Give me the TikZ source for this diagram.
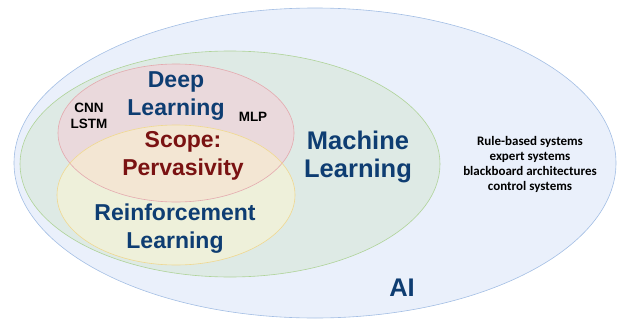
\documentclass[tikz,border=0pt]{standalone}
\usepackage{fontspec}
\setmainfont{Liberation Sans}
\newfontfamily\listfont{Carlito}

\definecolor{aifill}{HTML}{EAF0FB}
\definecolor{ailine}{HTML}{A3BEE4}
\definecolor{mlfill}{HTML}{DEEAE5}
\definecolor{mlline}{HTML}{AFD398}
\definecolor{dlfill}{HTML}{EAD9DC}
\definecolor{dlline}{HTML}{E4A9AE}
\definecolor{rlfill}{HTML}{EEF0DA}
\definecolor{rlline}{HTML}{F0D890}
\definecolor{bothfill}{HTML}{F3E6D3}
\definecolor{navy}{HTML}{0E3D72}
\definecolor{scopered}{HTML}{7A1212}

\begin{document}
\begin{tikzpicture}[x=1pt, y=-1pt]
    \tikzstyle{area} = [line width=0.6pt]
    \tikzstyle{big} = [text=navy, font=\bfseries\fontsize{23}{28}\selectfont, align=center]
    \tikzstyle{bigger} = [text=navy, font=\bfseries\fontsize{25.5}{28}\selectfont, align=center]
    \tikzstyle{small} = [font=\bfseries\fontsize{13.5}{16}\selectfont, align=center]
    \tikzstyle{list} = [font=\listfont\bfseries\fontsize{13}{15}\selectfont, align=center]

    \useasboundingbox (0,0) rectangle (618,324);

    % Mengen (Ellipsen)
    \draw [area, draw=ailine, fill=aifill] (315,163) ellipse [x radius=301, y radius=155];
    \draw [area, draw=mlline, fill=mlfill] (230,164) ellipse [x radius=210, y radius=113];
    \fill [dlfill] (176,133) ellipse [x radius=118, y radius=69];
    \fill [rlfill] (176,195) ellipse [x radius=119, y radius=70];
    % Schnittmenge DL / RL
    \begin{scope}
        \clip (176,195) ellipse [x radius=119, y radius=70];
        \fill [bothfill] (176,133) ellipse [x radius=118, y radius=69];
    \end{scope}
    \draw [area, draw=dlline] (176,133) ellipse [x radius=118, y radius=69];
    \draw [area, draw=rlline] (176,195) ellipse [x radius=119, y radius=70];

    % Beschriftungen
    \node (DeepLearning) [big] at (176,96) {Deep\\Learning};
    \node (Scope) [big, text=scopered] at (183,156) {Scope:\\Pervasivity};
    \node (ReinforcementLearning) [big] at (175,229) {Reinforcement\\Learning};
    \node (MachineLearning) [bigger] at (358,157) {Machine\\Learning};
    \node (AI) [bigger] at (402,288) {AI};

    \node (CNN) [small] at (89,116) {CNN\\LSTM};
    \node (MLP) [small] at (253,117) {MLP};

    \node (Klassisch) [list] at (530,164) {Rule-based systems\\expert systems\\blackboard architectures\\control systems};
\end{tikzpicture}
\end{document}
